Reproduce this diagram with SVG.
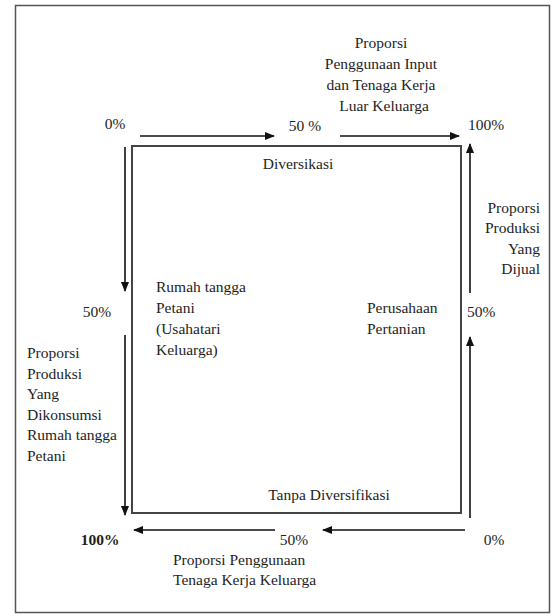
<svg xmlns="http://www.w3.org/2000/svg" width="555" height="616" viewBox="0 0 555 616">
<style>
text{font-family:"Liberation Serif","Times New Roman",serif;font-size:15.5px;fill:#1e1e1e}
.c{text-anchor:middle}
.r{text-anchor:end}
.ln{stroke:#111;stroke-width:1.6;fill:none}
</style>
<defs>
<marker id="ah" markerWidth="10" markerHeight="8" refX="9" refY="4" orient="auto" markerUnits="userSpaceOnUse">
<path d="M0,0 L10,4 L0,8 Z" fill="#111"/>
</marker>
</defs>
<rect width="555" height="616" fill="#fff"/>
<rect id="frame" x="15.5" y="5.5" width="534" height="607" fill="none" stroke="#555" stroke-width="1.5"/>
<g id="box">
<rect x="132" y="146" width="329" height="367" fill="none" stroke="#444" stroke-width="2"/>
<text class="c" x="298" y="169">Diversikasi</text>
<text class="c" x="329" y="500">Tanpa Diversifikasi</text>
</g>
<g id="rumah-tangga">
<text x="156" y="292">Rumah tangga</text>
<text x="156" y="313">Petani</text>
<text x="156" y="334">(Usahatari</text>
<text x="156" y="355">Keluarga)</text>
</g>
<g id="perusahaan">
<text x="367" y="313">Perusahaan</text>
<text x="367" y="334">Pertanian</text>
</g>
<g id="top-label">
<text class="c" x="381" y="48">Proporsi</text>
<text class="c" x="381" y="69">Penggunaan Input</text>
<text class="c" x="381" y="90">dan Tenaga Kerja</text>
<text class="c" x="384" y="111">Luar Keluarga</text>
</g>
<g id="right-label">
<text class="r" x="540" y="213">Proporsi</text>
<text class="r" x="540" y="233">Produksi</text>
<text class="r" x="540" y="254">Yang</text>
<text class="r" x="540" y="274">Dijual</text>
</g>
<g id="left-label">
<text x="27" y="358">Proporsi</text>
<text x="27" y="379">Produksi</text>
<text x="27" y="399">Yang</text>
<text x="27" y="420">Dikonsumsi</text>
<text x="27" y="440">Rumah tangga</text>
<text x="27" y="461">Petani</text>
</g>
<g id="bottom-label">
<text x="173" y="565">Proporsi Penggunaan</text>
<text x="173" y="585">Tenaga Kerja Keluarga</text>
</g>
<g id="percent">
<text class="c" x="115" y="129">0%</text>
<text class="c" x="305" y="131">50 %</text>
<text x="468" y="130">100%</text>
<text class="c" x="97" y="317">50%</text>
<text x="467" y="317">50%</text>
<text class="c" x="100" y="545" font-weight="bold">100%</text>
<text class="c" x="294" y="545">50%</text>
<text class="c" x="494" y="545">0%</text>
</g>
<g id="connectors">
<line class="ln" x1="140" y1="136" x2="274" y2="136" marker-end="url(#ah)"/>
<line class="ln" x1="340" y1="136" x2="459" y2="136" marker-end="url(#ah)"/>
<line class="ln" x1="470" y1="293" x2="470" y2="144" marker-end="url(#ah)"/>
<line class="ln" x1="470" y1="518" x2="470" y2="337" marker-end="url(#ah)"/>
<line class="ln" x1="465" y1="530" x2="323" y2="530" marker-end="url(#ah)"/>
<line class="ln" x1="275" y1="530" x2="134" y2="530" marker-end="url(#ah)"/>
<line class="ln" x1="125" y1="147" x2="125" y2="291" marker-end="url(#ah)"/>
<line class="ln" x1="125" y1="335" x2="125" y2="515" marker-end="url(#ah)"/>
</g>
</svg>
